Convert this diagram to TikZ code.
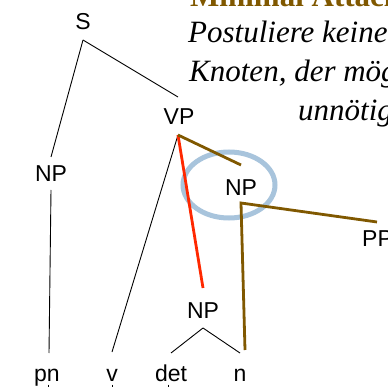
\documentclass[tikz,border=0pt]{standalone}
\usepackage{fontspec}
\setmainfont{Liberation Serif}
\newfontfamily\arialf{Liberation Sans}
\definecolor{brownline}{RGB}{128,88,0}
\definecolor{redline}{RGB}{255,40,0}
\definecolor{circblue}{RGB}{168,196,220}
\begin{document}
\begin{tikzpicture}[x=1pt,y=-1pt,
  lab/.style={font=\arialf\fontsize{23}{23}\selectfont, inner sep=0pt, anchor=base},
  txt/.style={font=\fontsize{31}{31}\selectfont\itshape, inner sep=0pt, anchor=base west},
  ttl/.style={font=\fontsize{31}{31}\selectfont\bfseries, text=brownline, inner sep=0pt, anchor=base west},
  thin/.style={line width=0.9pt, black},
  brn/.style={line width=2.8pt, brownline},
  rd/.style={line width=2.8pt, redline},
  circ/.style={line width=5pt, circblue}]
\useasboundingbox (0,0) rectangle (388,387);
\clip (0,0) rectangle (388,387);
% text block
\node[ttl] (t0) at (190,7) {Minimal Attachment};
\node[txt] (t1) at (188,43) {Postuliere keinen};
\node[txt] (t2) at (189,82) {Knoten, der möglich};
\node[txt] (t3) at (298,121) {unnötigen};
% labels
\node[lab] (S) at (83,30) {S};
\node[lab] (VP) at (179,125) {VP};
\node[lab] (NP1) at (51,182) {NP};
\node[lab] (NP2) at (241,196) {NP};
\node[lab, anchor=base west] (PP) at (362,247) {PP};
\node[lab] (NP3) at (203,318) {NP};
\node[lab] (pn) at (47,381) {pn};
\node[lab] (v) at (112,381) {v};
\node[lab] (det) at (171,381) {det};
\node[lab] (n) at (240,381) {n};
% anchor coordinates
\coordinate (Sb) at (83,40);
\coordinate (VPt) at (178,97);
\coordinate (VPb) at (178,135);
\coordinate (NP1t) at (51,157);
\coordinate (NP1b) at (51,190);
\coordinate (NP2t) at (241,165);
\coordinate (NP2b) at (241,203);
\coordinate (PPt) at (377,222);
\coordinate (NP3t) at (203,288);
\coordinate (NP3b) at (203,328);
\coordinate (pnt) at (49,353);
\coordinate (vt) at (112,352);
\coordinate (dett) at (171,353);
\coordinate (nt) at (240,353);
\coordinate (nbr) at (245,350);
\coordinate (pnb) at (48,384.5);
\coordinate (pnbb) at (48,392);
\coordinate (vb) at (112,384.5);
\coordinate (vbb) at (112,392);
\coordinate (detb) at (168,384.5);
\coordinate (detbb) at (168,392);
% ellipse
\draw[circ] (229,185) ellipse [x radius=46, y radius=33];
% black tree lines
\draw[thin] (Sb) -- (NP1t);
\draw[thin] (Sb) -- (VPt);
\draw[thin] (NP1b) -- (pnt);
\draw[thin] (VPb) -- (vt);
\draw[thin] (NP3b) -- (dett);
\draw[thin] (NP3b) -- (nt);
\draw[thin] (pnb) -- (pnbb);
\draw[thin] (vb) -- (vbb);
\draw[thin] (detb) -- (detbb);
% coloured lines
\draw[rd] (VPb) -- (NP3t);
\draw[brn] (VPb) -- (NP2t);
\draw[brn, line join=miter] (PPt) -- (NP2b) -- (nbr);
\end{tikzpicture}
\end{document}
